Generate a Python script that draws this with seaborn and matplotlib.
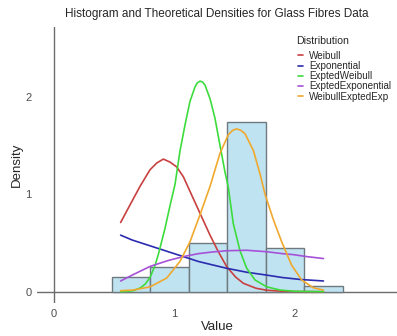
import numpy as np
import pandas as pd
import matplotlib
matplotlib.use("Agg")
import matplotlib.pyplot as plt
import seaborn as sns
from matplotlib.lines import Line2D

# ---- data ----
bin_edges = [0.48, 0.80, 1.12, 1.44, 1.76, 2.08, 2.40]
bin_density = [0.15, 0.25, 0.50, 1.74, 0.45, 0.055]

weibull_x = [0.554, 0.632, 0.715, 0.798, 0.854, 0.909, 0.964, 1.02, 1.075, 1.145, 1.208,
             1.297, 1.366, 1.436, 1.51, 1.574, 1.68, 1.768, 1.893, 2.05, 2.24]
weibull_y = [0.71, 0.89, 1.08, 1.25, 1.32, 1.36, 1.33, 1.28, 1.18, 0.99, 0.82,
             0.58, 0.41, 0.256, 0.15, 0.086, 0.035, 0.015, 0.005, 0.001, 0.0]

expo_x = [0.554, 0.65, 0.80, 0.95, 1.075, 1.20, 1.30, 1.436, 1.60, 1.768, 1.90, 2.05, 2.24]
expo_y = [0.58, 0.53, 0.47, 0.41, 0.36, 0.31, 0.28, 0.24, 0.20, 0.17, 0.145, 0.125, 0.11]

eweib_x = [0.554, 0.60, 0.66, 0.72, 0.76, 0.80, 0.84, 0.867, 0.923, 0.964, 1.006, 1.047,
           1.089, 1.13, 1.172, 1.19, 1.214, 1.235, 1.255, 1.297, 1.338, 1.38, 1.421, 1.449,
           1.49, 1.546, 1.602, 1.671, 1.768, 1.879, 2.00, 2.24]
eweib_y = [0.0, 0.003, 0.01, 0.04, 0.08, 0.15, 0.27, 0.38, 0.65, 0.88, 1.10, 1.44,
           1.71, 1.95, 2.10, 2.14, 2.16, 2.15, 2.12, 1.98, 1.78, 1.50, 1.23, 1.07,
           0.70, 0.42, 0.24, 0.12, 0.05, 0.017, 0.004, 0.0]

eexp_x = [0.554, 0.65, 0.80, 0.95, 1.075, 1.20, 1.30, 1.436, 1.60, 1.768, 1.90, 1.99, 2.10, 2.24]
eexp_y = [0.11, 0.17, 0.26, 0.32, 0.36, 0.39, 0.405, 0.42, 0.425, 0.41, 0.39, 0.38, 0.36, 0.34]

wee_x = [0.554, 0.659, 0.80, 0.937, 1.047, 1.13, 1.214, 1.297, 1.38, 1.449, 1.485, 1.518,
         1.553, 1.588, 1.657, 1.712, 1.754, 1.823, 1.893, 1.976, 2.059, 2.156, 2.24]
wee_y = [0.01, 0.017, 0.05, 0.14, 0.31, 0.51, 0.79, 1.08, 1.42, 1.61, 1.655, 1.67,
         1.655, 1.62, 1.45, 1.21, 1.00, 0.74, 0.51, 0.27, 0.12, 0.04, 0.017]

dist_names = ["Weibull", "Exponential", "ExptedWeibull", "ExptedExponential", "WeibullExptedExp"]
dist_colors = ["#c94040", "#2b2bb0", "#3ddc3d", "#a552d8", "#f0a92e"]

# ---- build long table ----
curves = [(weibull_x, weibull_y), (expo_x, expo_y), (eweib_x, eweib_y),
          (eexp_x, eexp_y), (wee_x, wee_y)]
frames = []
for name, (xs, ys) in zip(dist_names, curves):
    frames.append(pd.DataFrame({"Value": xs, "Density": ys, "Distribution": name}))
df = pd.concat(frames, ignore_index=True)

centers = [(a + b) / 2 for a, b in zip(bin_edges[:-1], bin_edges[1:])]

sns.set_style("white")
plt.rcParams["font.family"] = ["Liberation Sans", "DejaVu Sans"]

W, H = 397, 336
fig = plt.figure(figsize=(W / 100, H / 100), dpi=100)
ax = fig.add_axes([37 / W, (H - 303) / H, (397 - 37) / W, (303 - 27) / H])

sns.histplot(x=centers, weights=bin_density, bins=bin_edges, stat="count",
             color="#bfe3f1", edgecolor="#6f7a80", linewidth=1.0, alpha=1.0, ax=ax)

sns.lineplot(data=df, x="Value", y="Density", hue="Distribution", hue_order=dist_names,
             palette=dist_colors, estimator=None, sort=True, linewidth=1.2, ax=ax,
             legend=False)

ax.axhline(0, color="#6b6b6b", lw=1.0, zorder=0.5)
ax.axvline(0, color="#6b6b6b", lw=1.0, zorder=0.5)

ax.set_xlim(-0.141, 2.851)
ax.set_ylim(-0.116, 2.715)
ax.set_xticks([0, 1, 2])
ax.set_yticks([0, 1, 2])
ax.tick_params(length=0, labelsize=8, labelcolor="#4d4d4d", pad=4)
for s in ax.spines.values():
    s.set_visible(False)

ax.set_xlabel("Value", fontsize=9.5, labelpad=2)
ax.set_ylabel("Density", fontsize=9.5, labelpad=2)
ax.set_title("Histogram and Theoretical Densities for Glass Fibres Data", fontsize=8.5, pad=7)

handles = [Line2D([0], [0], color=c, lw=1.2) for c in dist_colors]
leg = ax.legend(handles, dist_names, fontsize=7.1,
                frameon=False, handlelength=0.5, handletextpad=0.65, labelspacing=0.02,
                loc="upper left", bbox_to_anchor=(291 / W, (H - 44) / H),
                bbox_transform=fig.transFigure, borderpad=0.2)
fig.text(296.5 / W, (H - 41) / H, "Distribution", fontsize=7.6, ha="left", va="center")

fig.savefig("out.png", dpi=100)
